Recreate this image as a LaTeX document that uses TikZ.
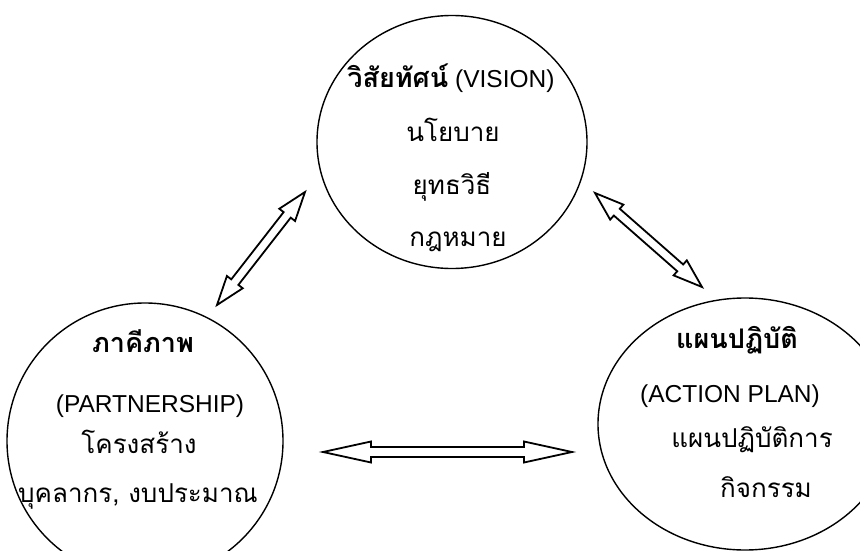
\documentclass[tikz,border=0pt]{standalone}
\usepackage{fontspec}
\setmainfont{Liberation Sans}
\newfontfamily\thai[Script=Thai]{Loma}
\usetikzlibrary{shapes.geometric,calc}
\newcommand\fatarrow[5]{%
  \draw[fatline] (#1)
    -- ($(#1)!#3!(#2)!#4!90:(#2)$) -- ($(#1)!#3!(#2)!#5!90:(#2)$)
    -- ($(#2)!#3!(#1)!#5!-90:(#1)$) -- ($(#2)!#3!(#1)!#4!-90:(#1)$)
    -- (#2)
    -- ($(#2)!#3!(#1)!#4!90:(#1)$) -- ($(#2)!#3!(#1)!#5!90:(#1)$)
    -- ($(#1)!#3!(#2)!#5!-90:(#2)$) -- ($(#1)!#3!(#2)!#4!-90:(#2)$)
    -- cycle;}
\begin{document}
\begin{tikzpicture}[x=1pt,y=-1pt,
  circ/.style={draw, ellipse, line width=1.4pt, inner sep=0pt},
  fatline/.style={draw, line width=1.8pt, line join=miter},
  lat/.style={font=\fontsize{24.5}{28}\selectfont, anchor=base, inner sep=0pt},
  th/.style={font=\thai\fontsize{26}{30}\selectfont, anchor=base, inner sep=0pt},
  thb/.style={font=\thai\bfseries\fontsize{27}{30}\selectfont, anchor=base, inner sep=0pt}]
\useasboundingbox (0,0) rectangle (860,551);
\clip (0,0) rectangle (860,551);
\fill[white] (0,0) rectangle (860,551);
% circles
\node[circ, minimum width=270pt, minimum height=253pt] (vision) at (452,142) {};
\node[circ, minimum width=276pt, minimum height=276pt] (partner) at (145,441) {};
\node[circ, minimum width=294pt, minimum height=252pt] (action) at (745,424) {};
% top texts
\node[lat] (t1) at (451,88) {{\thai\bfseries\fontsize{27}{30}\selectfont วิสัยทัศน์} (VISION)};
\node[th] (t2) at (453,141) {นโยบาย};
\node[th] (t3) at (452,194) {ยุทธวิธี};
\node[th] (t4) at (458,246) {กฎหมาย};
% left texts
\node[thb] (l1) at (143,352) {ภาคีภาพ};
\node[lat] (l2) at (150,412) {(PARTNERSHIP)};
\node[th] (l3) at (139,453) {โครงสร้าง};
\node[th] (l4) at (138,502) {บุคลากร, งบประมาณ};
% right texts
\node[thb] (r1) at (737,348) {แผนปฏิบัติ};
\node[lat] (r2) at (730,402) {(ACTION PLAN)};
\node[th] (r3) at (752,447) {แผนปฏิบัติการ};
\node[th] (r4) at (766,497) {กิจกรรม};
% arrow end points
\coordinate (a1s) at (217,305);
\coordinate (a1e) at (305,192);
\coordinate (a2s) at (595,193);
\coordinate (a2e) at (702,287);
\coordinate (a3s) at (323,452);
\coordinate (a3e) at (572,452);
\fatarrow{a1s}{a1e}{29pt}{10pt}{4.5pt}
\fatarrow{a2s}{a2e}{29pt}{10pt}{4.5pt}
\fatarrow{a3s}{a3e}{48pt}{10.5pt}{5pt}
\end{tikzpicture}
\end{document}
